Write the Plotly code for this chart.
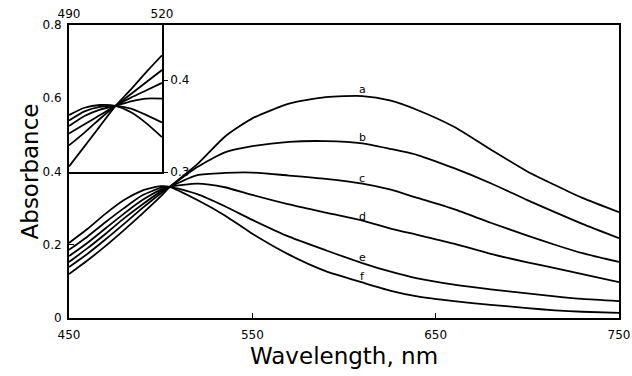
import plotly.graph_objects as go

# ---------------- data ----------------
wavelength = [450, 460, 470, 480, 490, 500, 505, 520, 535, 550, 570, 590,
              610, 625, 640, 660, 680, 700, 715, 730, 750]
curve_a = [0.120, 0.157, 0.197, 0.240, 0.285, 0.332, 0.358, 0.420, 0.495, 0.545, 0.585,
           0.603, 0.606, 0.594, 0.568, 0.522, 0.460, 0.400, 0.363, 0.328, 0.289]
curve_b = [0.139, 0.175, 0.215, 0.257, 0.300, 0.340, 0.358, 0.412, 0.452, 0.469, 0.481,
           0.483, 0.477, 0.462, 0.445, 0.409, 0.368, 0.322, 0.289, 0.257, 0.218]
curve_c = [0.153, 0.190, 0.230, 0.272, 0.310, 0.345, 0.358, 0.390, 0.396, 0.397, 0.389,
           0.380, 0.367, 0.351, 0.328, 0.297, 0.260, 0.225, 0.200, 0.177, 0.153]
curve_d = [0.169, 0.205, 0.245, 0.285, 0.322, 0.350, 0.358, 0.367, 0.357, 0.336, 0.310,
           0.288, 0.266, 0.245, 0.227, 0.203, 0.175, 0.152, 0.136, 0.120, 0.098]
curve_e = [0.186, 0.222, 0.262, 0.300, 0.335, 0.355, 0.358, 0.338, 0.305, 0.268, 0.222,
           0.185, 0.150, 0.127, 0.108, 0.091, 0.078, 0.067, 0.059, 0.052, 0.046]
curve_f = [0.205, 0.243, 0.285, 0.322, 0.348, 0.360, 0.358, 0.322, 0.280, 0.230, 0.173,
           0.128, 0.097, 0.075, 0.059, 0.046, 0.036, 0.027, 0.021, 0.017, 0.014]
main_curves = [curve_a, curve_b, curve_c, curve_d, curve_e, curve_f]

curve_labels = ["a", "b", "c", "d", "e", "f"]
label_x = [610, 610, 610, 610, 610, 610]
label_y = [0.623, 0.494, 0.382, 0.276, 0.166, 0.112]

# inset (490-520 nm, expanded scale)
inset_wavelength = [490, 495, 500, 505, 510, 515, 520]
inset_a = [0.306, 0.328, 0.350, 0.372, 0.390, 0.409, 0.427]
inset_b = [0.329, 0.343, 0.358, 0.372, 0.385, 0.398, 0.411]
inset_c = [0.342, 0.352, 0.362, 0.372, 0.381, 0.389, 0.397]
inset_d = [0.350, 0.361, 0.368, 0.372, 0.377, 0.380, 0.380]
inset_e = [0.356, 0.366, 0.371, 0.372, 0.369, 0.362, 0.354]
inset_f = [0.362, 0.370, 0.373, 0.372, 0.365, 0.353, 0.338]
inset_curves = [inset_a, inset_b, inset_c, inset_d, inset_e, inset_f]

x_ticks = [450, 550, 650, 750]
y_ticks = [0, 0.2, 0.4, 0.6, 0.8]
y_tick_text = ["0", "0.2", "0.4", "0.6", "0.8"]
inset_x_ticks = [490, 520]
inset_y_ticks = [0.3, 0.4]
inset_y_tick_text = ["0.3", "0.4"]

# ---------------- figure ----------------
FONT = "DejaVu Sans"
fig = go.Figure()

for ys in main_curves:
    fig.add_trace(go.Scatter(x=wavelength, y=ys, mode="lines",
                             line=dict(color="black", width=1.8, shape="spline", smoothing=0.6),
                             showlegend=False, hoverinfo="skip"))

for ys in inset_curves:
    fig.add_trace(go.Scatter(x=inset_wavelength, y=ys, mode="lines", xaxis="x2", yaxis="y2",
                             line=dict(color="black", width=1.8, shape="spline", smoothing=0.6),
                             showlegend=False, hoverinfo="skip"))

for lab, lx, ly in zip(curve_labels, label_x, label_y):
    fig.add_annotation(x=lx, y=ly, text=lab, showarrow=False, xref="x", yref="y",
                       font=dict(family=FONT, size=11, color="black"))

axis_common = dict(showgrid=False, zeroline=False, showline=True, linecolor="black",
                   linewidth=2, color="black", automargin=False)

fig.update_layout(
    width=632, height=376,
    margin=dict(l=69, r=13, t=25, b=58, autoexpand=False),
    paper_bgcolor="white", plot_bgcolor="white",
    font=dict(family=FONT, size=12, color="black"),
    xaxis=dict(range=[450, 750], tickvals=x_ticks, ticks="inside", ticklen=5,
               ticklabelstandoff=5, mirror=True, domain=[0, 1], **axis_common),
    yaxis=dict(range=[0, 0.8], tickvals=y_ticks, ticktext=y_tick_text, ticks="inside",
               ticklen=5, ticklabelstandoff=3, mirror=True, domain=[0, 1], **axis_common),
    xaxis2=dict(range=[490, 520], tickvals=inset_x_ticks, side="top", anchor="y2",
                domain=[0, 0.169], ticks="", mirror=True, **axis_common),
    yaxis2=dict(range=[0.3, 0.46], tickvals=inset_y_ticks, ticktext=inset_y_tick_text,
                side="right", anchor="x2", domain=[0.498, 1], ticks="outside", ticklen=4,
                mirror=True, **axis_common),
)

fig.add_annotation(text="Absorbance", xref="paper", yref="paper", x=-0.071, y=0.5,
                   xanchor="center", yanchor="middle",
                   textangle=-90, showarrow=False,
                   font=dict(family=FONT, size=23, color="black"))
fig.add_annotation(text="Wavelength, nm", xref="paper", yref="paper", x=0.5, y=-0.13,
                   xanchor="center", yanchor="middle", showarrow=False,
                   font=dict(family=FONT, size=23, color="black"))

fig.write_html("out.html", config={"displayModeBar": False},
               post_script="document.body.style.margin='0px';document.body.style.overflow='hidden';")
